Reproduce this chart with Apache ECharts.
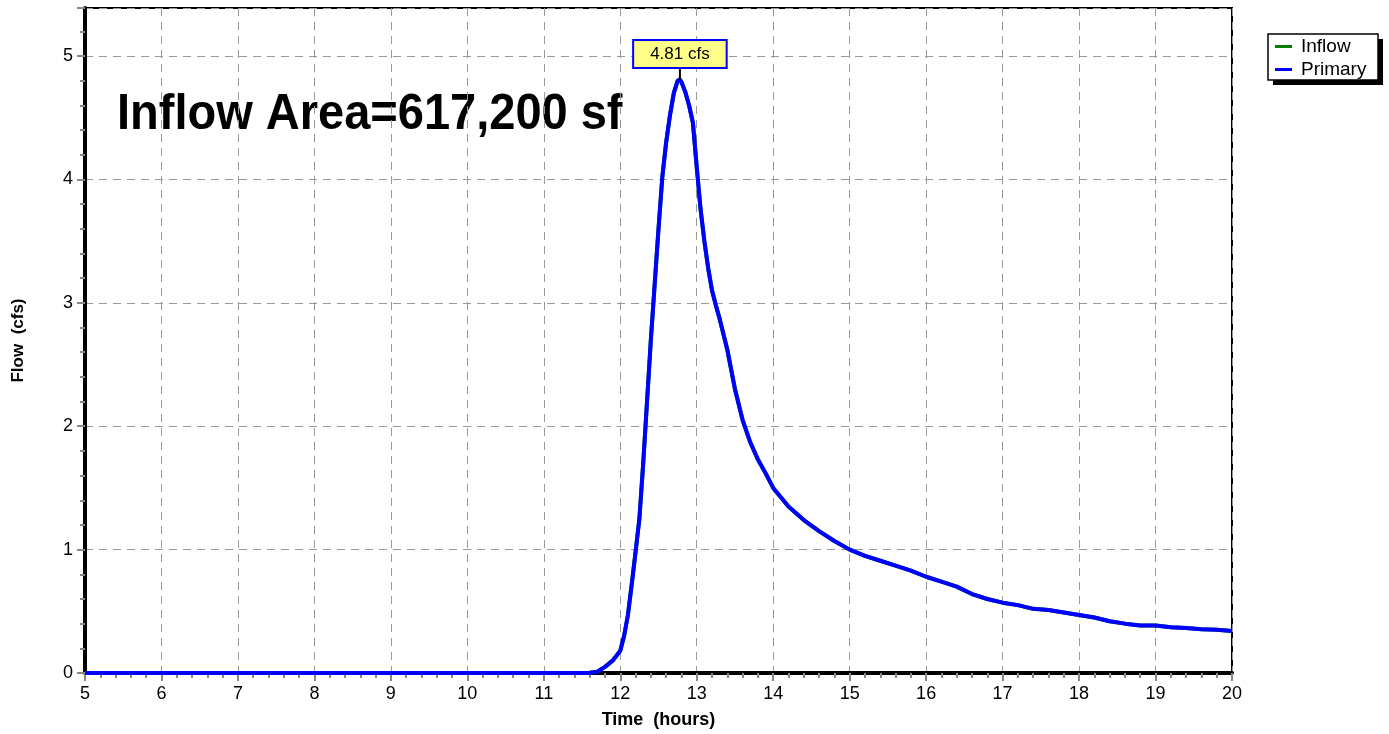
<!DOCTYPE html>
<html>
<head>
<meta charset="utf-8">
<script src="https://cdn.jsdelivr.net/npm/echarts@6/dist/echarts.min.js"></script>
<style>
  html, body { margin: 0; padding: 0; background: #fff; }
  #chart { width: 1389px; height: 734px; }
</style>
</head>
<body>
<div id="chart"></div>
<script>
// hydrograph, time in hours, flow in cfs
var hours = [5, 11.5, 11.6, 11.7, 11.8, 11.9, 12.0, 12.05, 12.1, 12.15, 12.2, 12.25, 12.3, 12.35,
  12.4, 12.45, 12.5, 12.55, 12.6, 12.65, 12.7, 12.75, 12.78, 12.8, 12.85, 12.9, 12.95, 13.0,
  13.05, 13.1, 13.15, 13.2, 13.25, 13.3, 13.4, 13.5, 13.6, 13.7, 13.8, 13.9, 14.0, 14.2, 14.4,
  14.6, 14.8, 15.0, 15.2, 15.4, 15.6, 15.8, 16.0, 16.2, 16.4, 16.6, 16.8, 17.0, 17.2, 17.4,
  17.6, 17.8, 18.0, 18.2, 18.4, 18.6, 18.8, 19.0, 19.2, 19.4, 19.6, 19.8, 20.0];
var flow = [0, 0, 0.002, 0.01, 0.05, 0.10, 0.18, 0.30, 0.47, 0.72, 0.98, 1.25, 1.70, 2.20,
  2.70, 3.15, 3.60, 4.02, 4.30, 4.52, 4.70, 4.80, 4.81, 4.79, 4.71, 4.60, 4.46, 4.10,
  3.76, 3.50, 3.28, 3.10, 2.98, 2.87, 2.62, 2.30, 2.05, 1.87, 1.73, 1.62, 1.50, 1.35, 1.24,
  1.15, 1.07, 1.00, 0.95, 0.91, 0.87, 0.83, 0.78, 0.74, 0.70, 0.64, 0.60, 0.57, 0.55, 0.52,
  0.51, 0.49, 0.47, 0.45, 0.42, 0.40, 0.385, 0.385, 0.37, 0.365, 0.355, 0.35, 0.34];
var peakTime = 12.78;
var peakFlow = 4.81;
var title = 'Inflow Area=617,200 sf';

var pts = hours.map(function (h, i) { return [h, flow[i]]; });

var myChart = echarts.init(document.getElementById('chart'));
var gridLine = { show: true, lineStyle: { color: '#999', type: [8, 6], width: 1 } };
myChart.setOption({
  animation: false,
  textStyle: { fontFamily: 'Liberation Sans, Arial, sans-serif' },
  grid: { left: 85, top: 8, right: 157, bottom: 58, show: true, borderColor: '#000', borderWidth: 2 },
  legend: {
    left: 1275, top: 37, z: 10,
    orient: 'vertical',
    itemWidth: 17, itemHeight: 3, itemGap: 4,
    padding: 0,
    textStyle: { fontSize: 19, color: '#000', padding: [0, 0, 0, 4] },
    data: [{ name: 'Inflow', icon: 'rect' }, { name: 'Primary', icon: 'rect' }]
  },
  xAxis: {
    type: 'value', min: 5, max: 20, interval: 1,
    name: 'Time  (hours)', nameLocation: 'middle', nameGap: 38,
    nameTextStyle: { fontSize: 18, fontWeight: 'bold', color: '#000' },
    axisLine: { show: true, onZero: false, lineStyle: { color: '#000', width: 4 } },
    axisTick: { show: true, length: 8, lineStyle: { color: '#888', width: 2 } },
    minorTick: { show: true, splitNumber: 5, length: 5, lineStyle: { color: '#888', width: 2 } },
    axisLabel: { fontSize: 18, color: '#000', margin: 12 },
    splitLine: gridLine
  },
  yAxis: {
    type: 'value', min: 0, max: 5.39, interval: 1,
    name: 'Flow  (cfs)', nameLocation: 'middle', nameGap: 58, nameRotate: 90,
    nameTextStyle: { fontSize: 17, fontWeight: 'bold', color: '#000' },
    axisLine: { show: true, onZero: false, lineStyle: { color: '#000', width: 4 } },
    axisTick: { show: true, length: 8, lineStyle: { color: '#888', width: 2 } },
    minorTick: { show: true, splitNumber: 5, length: 5, lineStyle: { color: '#888', width: 2 } },
    axisLabel: { fontSize: 18, color: '#000', margin: 12, showMaxLabel: false },
    splitLine: gridLine
  },
  series: [
    {
      name: 'Inflow', type: 'line', data: pts, showSymbol: false,
      itemStyle: { color: '#008000' },
      lineStyle: { color: '#008000', width: 4 }
    },
    {
      name: 'Primary', type: 'line', data: pts, showSymbol: false,
      itemStyle: { color: '#0000ff' },
      lineStyle: { color: '#0000ff', width: 4 },
      markPoint: {
        silent: true,
        data: [{
          coord: [peakTime, peakFlow],
          symbol: 'rect', symbolSize: [2, 13], symbolOffset: [0, -6],
          itemStyle: { color: '#000' },
          label: {
            show: true, position: 'top', distance: 0,
            formatter: peakFlow + ' cfs',
            fontSize: 17, color: '#000',
            backgroundColor: '#ffff88', borderColor: '#0000ff', borderWidth: 2,
            padding: [5, 16, 4, 16]
          }
        }]
      }
    }
  ],
  graphic: [
    { type: 'rect', z: 1, shape: { x: 1273, y: 39, width: 110, height: 46 }, style: { fill: '#000' } },
    { type: 'rect', z: 2, shape: { x: 1268, y: 34, width: 110, height: 46 },
      style: { fill: '#fff', stroke: '#000', lineWidth: 1.5 } },
    {
      type: 'text', left: 117, top: 90, scaleX: 0.94,
      style: { text: title, font: 'bold 50px Liberation Sans, Arial, sans-serif', fill: '#000' }
    }
  ]
});
</script>
</body>
</html>
